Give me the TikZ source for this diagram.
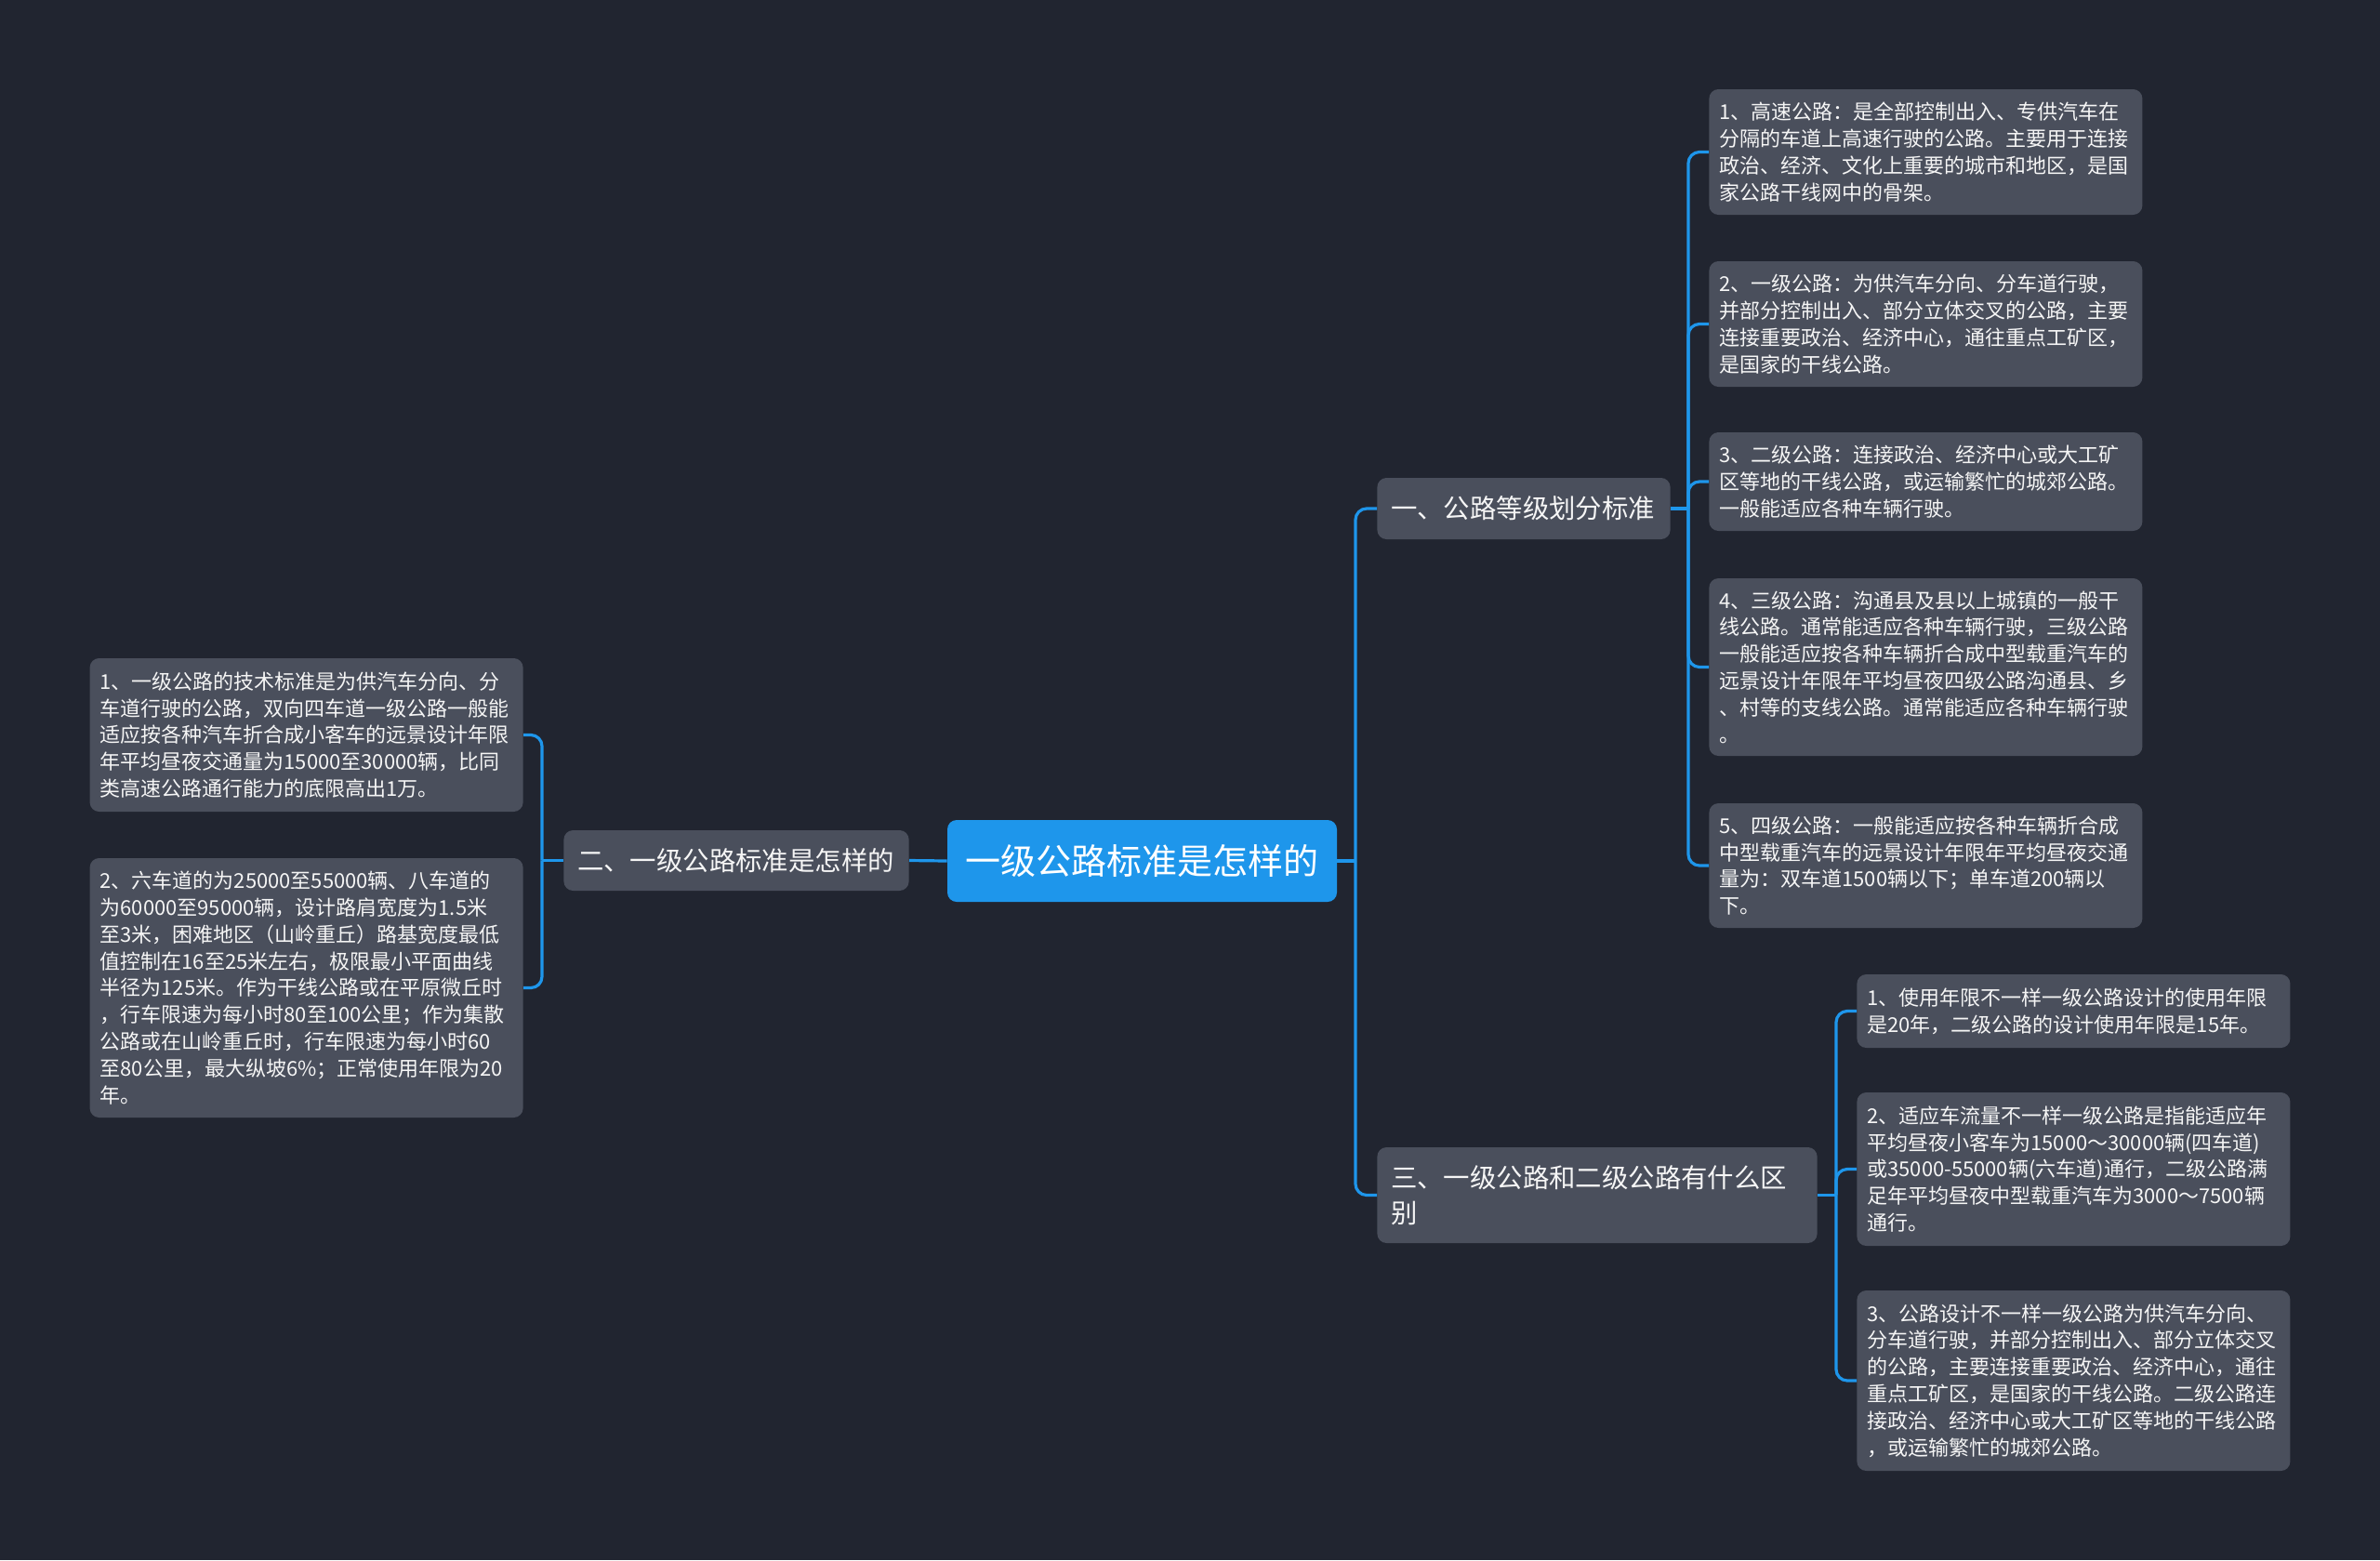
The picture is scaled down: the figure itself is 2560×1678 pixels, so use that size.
\documentclass[tikz,border=0pt]{standalone}
\usepackage{fontspec}
\setmainfont{Noto Sans CJK SC}
\definecolor{bgc}{RGB}{33,37,48}
\definecolor{boxc}{RGB}{74,79,92}
\definecolor{rootc}{RGB}{30,150,235}
\definecolor{linec}{RGB}{30,150,235}
\definecolor{txtc}{RGB}{245,245,245}
\begin{document}
\begin{tikzpicture}[x=0.5pt,y=-0.5pt,
  conn/.style={draw=linec, line width=1.6pt, rounded corners=6pt},
  leaf/.style={fill=boxc, rounded corners=5pt, text=txtc, align=left, text width=222pt,
    inner xsep=5.5pt, inner ysep=0pt, font=\fontsize{11}{14.4}\selectfont},
  branch/.style={fill=boxc, rounded corners=5pt, text=txtc, align=left,
    inner xsep=7.3pt, inner ysep=0pt, font=\fontsize{14.2}{18.8}\selectfont},
  rootbox/.style={fill=rootc, rounded corners=5pt, text=white, align=center,
    inner sep=0pt, minimum width=209.5pt, minimum height=44pt, font=\fontsize{19}{22}\selectfont}
]
\fill[bgc] (0,0) rectangle (2560,1678);
\useasboundingbox (0,0) rectangle (2560,1678);

% root
\node[rootbox] (root) at (1228.5,926) {一级公路标准是怎样的};

% branches
\node[branch, anchor=west, text width=143pt, minimum height=33pt] (b1) at (1481,547) {一、公路等级划分标准};
\node[branch, anchor=west, text width=171pt, minimum height=32.5pt] (b2) at (606,925.5) {二、一级公路标准是怎样的};
\node[branch, anchor=west, text width=222pt, minimum height=51.5pt] (b3) at (1481,1285.5) {三、一级公路和二级公路有什么区\\别};

% group 1 leaves
\node[leaf, anchor=west, minimum height=67.5pt] (l1) at (1838,163.5) {1、高速公路：是全部控制出入、专供汽车在\\分隔的车道上高速行驶的公路。主要用于连接\\政治、经济、文化上重要的城市和地区，是国\\家公路干线网中的骨架。};
\node[leaf, anchor=west, minimum height=67.5pt] (l2) at (1838,348.5) {2、一级公路：为供汽车分向、分车道行驶，\\并部分控制出入、部分立体交叉的公路，主要\\连接重要政治、经济中心，通往重点工矿区，\\是国家的干线公路。};
\node[leaf, anchor=west, minimum height=53pt] (l3) at (1838,518) {3、二级公路：连接政治、经济中心或大工矿\\区等地的干线公路，或运输繁忙的城郊公路。\\一般能适应各种车辆行驶。};
\node[leaf, anchor=west, minimum height=95.5pt] (l4) at (1838,717.5) {4、三级公路：沟通县及县以上城镇的一般干\\线公路。通常能适应各种车辆行驶，三级公路\\一般能适应按各种车辆折合成中型载重汽车的\\远景设计年限年平均昼夜四级公路沟通县、乡\\、村等的支线公路。通常能适应各种车辆行驶\\。};
\node[leaf, anchor=west, minimum height=67pt] (l5) at (1838,931) {5、四级公路：一般能适应按各种车辆折合成\\中型载重汽车的远景设计年限年平均昼夜交通\\量为：双车道1500辆以下；单车道200辆以\\下。};

% group 3 leaves
\node[leaf, anchor=west, minimum height=39.5pt] (m1) at (1997,1087.5) {1、使用年限不一样一级公路设计的使用年限\\是20年，二级公路的设计使用年限是15年。};
\node[leaf, anchor=west, minimum height=82.5pt] (m2) at (1997,1257.5) {2、适应车流量不一样一级公路是指能适应年\\平均昼夜小客车为15000～30000辆(四车道)\\或35000-55000辆(六车道)通行，二级公路满\\足年平均昼夜中型载重汽车为3000～7500辆\\通行。};
\node[leaf, anchor=west, minimum height=97pt] (m3) at (1997,1485) {3、公路设计不一样一级公路为供汽车分向、\\分车道行驶，并部分控制出入、部分立体交叉\\的公路，主要连接重要政治、经济中心，通往\\重点工矿区，是国家的干线公路。二级公路连\\接政治、经济中心或大工矿区等地的干线公路\\，或运输繁忙的城郊公路。};

% group 2 leaves
\node[leaf, anchor=east, minimum height=82.5pt] (a1) at (563,790.5) {1、一级公路的技术标准是为供汽车分向、分\\车道行驶的公路，双向四车道一级公路一般能\\适应按各种汽车折合成小客车的远景设计年限\\年平均昼夜交通量为15000至30000辆，比同\\类高速公路通行能力的底限高出1万。};
\node[leaf, anchor=east, minimum height=139.5pt] (a2) at (563,1062.5) {2、六车道的为25000至55000辆、八车道的\\为60000至95000辆，设计路肩宽度为1.5米\\至3米，困难地区（山岭重丘）路基宽度最低\\值控制在16至25米左右，极限最小平面曲线\\半径为125米。作为干线公路或在平原微丘时\\，行车限速为每小时80至100公里；作为集散\\公路或在山岭重丘时，行车限速为每小时60\\至80公里，最大纵坡6\%；正常使用年限为20\\年。};

% connectors
\coordinate (t0) at (1458,926);
\coordinate (u1) at (1816,547);
\coordinate (u3) at (1975,1285.5);
\coordinate (v2) at (583,925.5);

\draw[conn] (root.east) -- (t0);
\draw[conn] (t0) |- (b1.west);
\draw[conn] (t0) |- (b3.west);
\draw[conn] (root.west) -- (b2.east);

\draw[conn] (b1.east) -- (u1);
\foreach \n in {l1,l2,l3,l4,l5} \draw[conn] (u1) |- (\n.west);

\draw[conn] (b3.east) -- (u3);
\foreach \n in {m1,m2,m3} \draw[conn] (u3) |- (\n.west);

\draw[conn] (b2.west) -- (v2);
\foreach \n in {a1,a2} \draw[conn] (v2) |- (\n.east);
\end{tikzpicture}
\end{document}
